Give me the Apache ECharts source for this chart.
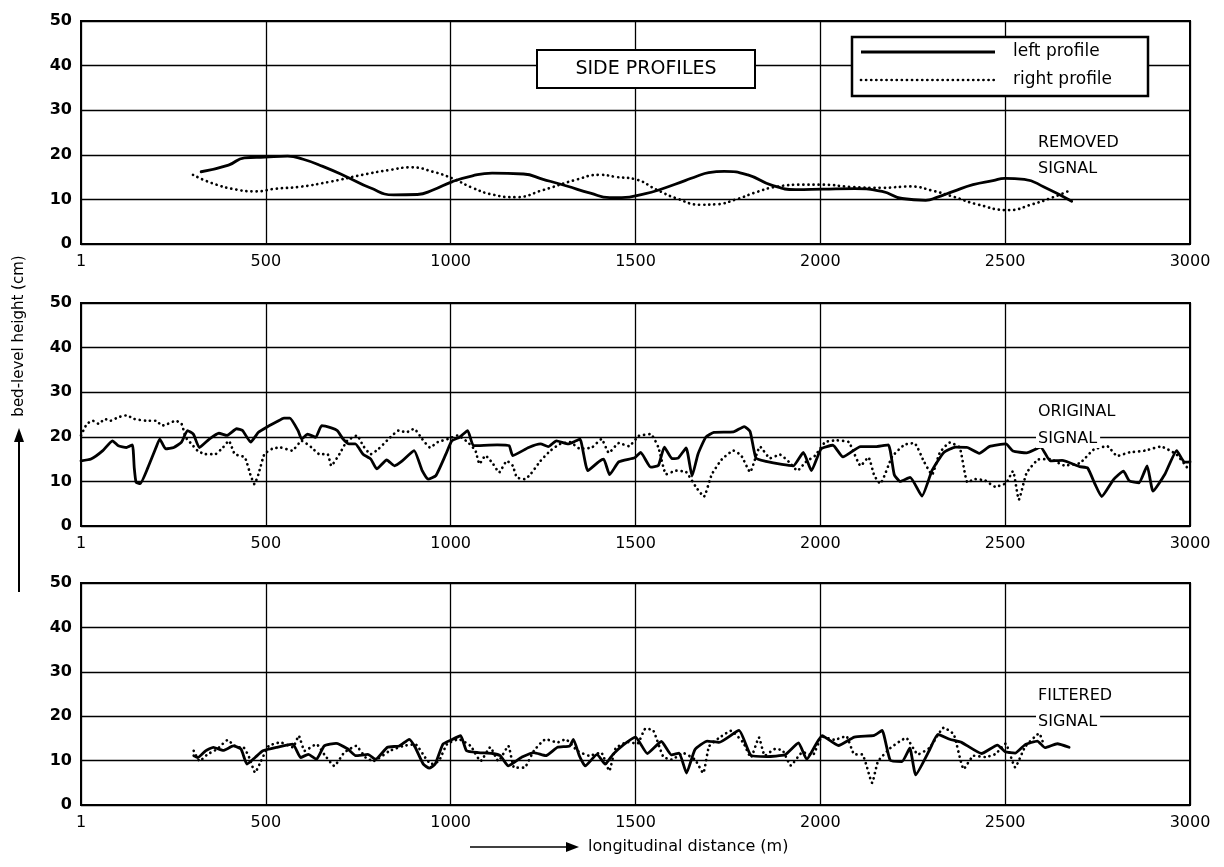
<!DOCTYPE html>
<html>
<head>
<meta charset="utf-8">
<script src="https://cdn.jsdelivr.net/npm/echarts@6/dist/echarts.min.js"></script>
<style>
html,body{margin:0;padding:0;background:#fff;}
#chart{width:1224px;height:867px;}
</style>
</head>
<body>
<div id="chart"></div>
<script>
// ---- tick labels ----
const xTickValues = [0, 500, 1000, 1500, 2000, 2500, 3000];
const xTickLabels = ['1', '500', '1000', '1500', '2000', '2500', '3000'];
const yTickValues = [0, 10, 20, 30, 40, 50];

// ---- legend / panel names ----
const seriesNames = ['left profile', 'right profile'];
const panelLabels = [['REMOVED', 'SIGNAL'], ['ORIGINAL', 'SIGNAL'], ['FILTERED', 'SIGNAL']];

// ---- panel 1 : removed signal  [distance m, height cm] ----
const removedLeft = [
  [325,16.2],[399,17.7],[442,19.3],[497,19.5],[559,19.7],[601,19.0],[654,17.4],[718,15.1],[782,12.6],
  [846,11.0],[910,11.1],[952,12.1],[1005,14.0],[1059,15.3],[1112,15.9],[1197,15.7],[1250,14.5],
  [1314,13.0],[1378,11.4],[1430,10.4],[1463,10.4],[1527,11.3],[1559,12.0],[1634,14.2],[1666,15.2],
  [1698,16.0],[1740,16.3],[1804,15.5],[1868,13.2],[1933,12.2],[2007,12.3],[2093,12.4],[2167,11.8],
  [2221,10.2],[2285,9.8],[2317,10.5],[2360,11.8],[2413,13.3],[2467,14.2],[2499,14.7],[2552,14.5],
  [2605,12.8],[2680,9.6]
];
const removedRight = [
  [303,15.5],[356,13.6],[420,12.2],[473,11.8],[527,12.4],[590,12.8],[676,14.0],[761,15.5],[835,16.6],
  [894,17.2],[952,16.2],[1005,14.7],[1059,12.6],[1112,11.1],[1176,10.5],[1250,12.1],[1335,14.3],
  [1404,15.5],[1450,15.0],[1500,14.5],[1559,12.1],[1612,10.2],[1676,8.8],[1719,8.9],[1772,10.0],
  [1826,11.6],[1879,12.8],[1954,13.3],[2007,13.3],[2082,12.8],[2167,12.6],[2242,12.9],[2306,11.9],
  [2360,10.6],[2424,8.9],[2509,7.6],[2573,8.9],[2627,10.4],[2675,12.0]
];

// ---- panel 2 : original signal ----
const originalLeft = [
  [0,14.6],[27,15.0],[59,16.9],[85,19.1],[101,18.0],[123,17.6],[139,18.2],[144,13.1],[149,9.8],
  [160,9.5],[181,13.1],[203,17.6],[213,19.5],[229,17.3],[251,17.6],[272,18.8],[288,21.4],[304,20.6],
  [320,17.6],[347,19.5],[373,20.8],[395,20.3],[421,21.8],[437,21.4],[459,18.8],[480,21.0],[501,22.1],
  [528,23.3],[549,24.2],[565,24.2],[587,21.4],[597,19.5],[613,20.6],[635,19.9],[651,22.5],[677,22.0],
  [693,21.4],[709,19.5],[725,18.4],[742,18.4],[763,16.1],[784,15.0],[800,12.8],[827,14.8],[848,13.5],
  [869,14.6],[901,16.9],[923,12.4],[939,10.5],[960,11.3],[987,16.1],[1003,19.1],[1024,19.9],
  [1046,21.4],[1062,18.0],[1126,18.2],[1158,18.0],[1168,15.8],[1211,17.6],[1243,18.4],[1264,17.8],
  [1286,19.1],[1318,18.4],[1339,19.1],[1350,19.5],[1371,12.4],[1402,14.5],[1414,15.0],[1430,11.5],
  [1455,14.4],[1498,15.3],[1514,16.5],[1541,13.2],[1562,13.6],[1578,17.7],[1599,15.1],[1615,15.2],
  [1637,17.5],[1653,11.2],[1669,16.1],[1690,19.9],[1712,21.0],[1765,21.1],[1794,22.3],[1810,21.2],
  [1826,15.2],[1853,14.5],[1896,13.8],[1927,13.5],[1954,16.5],[1976,12.4],[2002,17.3],[2034,18.1],
  [2061,15.5],[2109,17.8],[2152,17.8],[2184,18.2],[2200,11.5],[2216,10.0],[2243,10.9],[2275,6.7],
  [2302,12.4],[2334,16.5],[2366,17.7],[2398,17.6],[2430,16.3],[2457,17.8],[2502,18.4],[2521,16.8],
  [2558,16.4],[2596,17.7],[2622,14.6],[2654,14.7],[2702,13.3],[2723,13.0],[2744,9.2],[2761,6.6],
  [2793,10.4],[2820,12.3],[2836,10.1],[2862,9.7],[2884,13.5],[2900,7.8],[2932,11.6],[2964,16.9],
  [2985,14.3],[3000,14.4]
];
const originalRight = [
  [0,20.3],[16,22.9],[32,23.6],[48,22.9],[64,24.0],[80,23.6],[101,24.4],[123,24.8],[144,24.0],
  [176,23.6],[203,23.6],[219,22.5],[235,22.9],[256,23.6],[272,22.9],[283,19.9],[299,18.4],[315,16.9],
  [336,16.1],[363,16.1],[384,17.6],[400,19.1],[416,16.1],[443,15.4],[459,11.3],[469,9.4],[480,11.6],
  [496,16.1],[517,17.3],[539,17.6],[571,16.9],[597,19.1],[624,17.6],[645,16.1],[667,16.1],[677,13.5],
  [699,16.1],[720,19.1],[747,20.3],[763,18.0],[784,16.1],[805,17.3],[832,19.5],[859,21.4],[880,21.0],
  [901,21.8],[923,19.5],[944,17.6],[965,18.8],[992,19.5],[1019,20.3],[1046,18.8],[1067,16.9],
  [1078,13.9],[1094,15.8],[1115,13.9],[1131,12.0],[1152,14.6],[1168,13.5],[1179,10.9],[1200,10.5],
  [1216,11.6],[1243,14.6],[1270,16.9],[1296,18.4],[1323,18.8],[1350,17.3],[1382,17.6],[1408,19.5],
  [1428,16.4],[1455,18.6],[1482,17.9],[1509,20.2],[1541,20.6],[1562,17.6],[1583,11.6],[1610,12.4],
  [1637,12.1],[1663,8.8],[1685,6.6],[1706,11.5],[1733,14.9],[1765,16.9],[1786,15.8],[1810,12.1],
  [1837,17.8],[1864,15.2],[1891,16.0],[1917,14.2],[1938,12.4],[1960,14.3],[1986,15.8],[2013,18.8],
  [2045,19.2],[2077,18.8],[2109,13.5],[2130,15.4],[2146,11.3],[2162,9.5],[2194,15.5],[2227,18.2],
  [2254,18.6],[2280,14.5],[2302,11.5],[2323,16.4],[2350,18.7],[2377,17.6],[2398,9.8],[2419,10.5],
  [2446,10.2],[2473,8.8],[2502,9.6],[2521,12.3],[2537,5.9],[2558,11.9],[2590,14.9],[2622,15.0],
  [2659,13.6],[2702,14.1],[2739,17.1],[2776,17.9],[2803,15.7],[2836,16.5],[2878,16.9],[2921,17.8],
  [2964,16.0],[2996,12.7]
];

// ---- panel 3 : filtered signal ----
const filteredLeft = [
  [305,11.1],[316,10.7],[337,12.2],[358,13.0],[385,12.3],[412,13.3],[433,12.6],[449,9.2],[471,10.7],
  [492,12.2],[530,13.0],[573,13.7],[594,10.7],[615,11.4],[637,10.3],[658,13.3],[690,13.9],[722,12.6],
  [744,11.1],[776,11.4],[797,10.3],[829,13.0],[861,13.3],[888,14.8],[904,13.0],[926,9.2],[942,8.3],
  [958,9.2],[979,13.7],[1000,14.6],[1027,15.6],[1043,12.2],[1075,11.8],[1113,11.6],[1134,11.1],
  [1156,8.8],[1193,10.8],[1225,11.8],[1257,11.1],[1289,13.0],[1322,13.3],[1332,14.8],[1348,11.1],
  [1364,8.8],[1396,11.4],[1418,9.2],[1439,11.4],[1468,13.6],[1500,15.3],[1532,11.6],[1570,14.3],
  [1597,11.3],[1618,11.7],[1638,7.2],[1661,12.5],[1694,14.4],[1726,14.1],[1780,16.8],[1812,11.2],
  [1855,10.9],[1904,11.3],[1941,14.0],[1963,10.3],[2005,15.6],[2049,13.4],[2092,15.3],[2146,15.7],
  [2167,16.8],[2189,10.1],[2221,9.8],[2242,12.8],[2258,6.8],[2296,12.5],[2318,15.9],[2350,14.8],
  [2382,14.1],[2436,11.6],[2479,13.5],[2500,12.0],[2527,11.7],[2554,13.6],[2587,14.4],[2608,12.9],
  [2641,13.8],[2673,13.0]
];
const filteredRight = [
  [305,12.2],[321,9.9],[342,11.4],[369,12.6],[396,14.6],[423,13.0],[439,13.0],[455,10.7],[471,7.3],
  [487,9.9],[508,13.3],[540,14.1],[573,13.0],[589,15.6],[605,12.2],[637,13.7],[658,11.4],[685,8.8],
  [712,11.8],[744,13.3],[770,10.7],[791,9.9],[835,12.2],[872,13.3],[904,13.7],[931,10.7],[947,9.2],
  [968,9.9],[990,13.7],[1022,14.8],[1054,13.3],[1081,9.9],[1107,13.0],[1129,9.9],[1156,13.3],
  [1172,8.4],[1199,8.4],[1225,12.2],[1257,14.8],[1289,14.1],[1311,14.8],[1343,12.2],[1375,11.1],
  [1407,11.8],[1429,7.7],[1446,12.7],[1478,14.2],[1505,13.8],[1527,17.2],[1548,16.8],[1575,10.9],
  [1597,10.2],[1629,11.7],[1661,10.2],[1683,7.2],[1699,13.2],[1726,15.1],[1758,16.7],[1791,14.1],
  [1812,10.7],[1834,15.2],[1850,11.1],[1877,12.6],[1898,12.3],[1920,8.9],[1952,11.9],[1979,11.2],
  [2005,15.4],[2038,14.7],[2070,15.5],[2092,11.4],[2113,11.4],[2140,5.0],[2156,9.8],[2189,12.8],
  [2232,15.1],[2264,11.4],[2296,12.9],[2334,17.4],[2361,15.9],[2388,8.1],[2415,11.1],[2447,10.8],
  [2474,11.5],[2501,13.8],[2527,8.5],[2554,13.1],[2592,16.1],[2603,13.9]
];

const FONT = 'DejaVu Sans';
const SOLID = {color: '#000', width: 2.8, cap: 'round', join: 'round'};
const DOTTED = {color: '#000', width: 2.7, type: [0.1, 5], cap: 'round'};
const grids = [
  {left: 81, right: 34, top: 21, height: 223},
  {left: 81, right: 34, top: 303, height: 223},
  {left: 81, right: 34, top: 583, height: 222}
];
const panelData = [[removedLeft, removedRight], [originalLeft, originalRight], [filteredLeft, filteredRight]];

const chart = echarts.init(document.getElementById('chart'), null, {renderer: 'canvas'});

const xAxes = grids.map((g, i) => ({
  gridIndex: i, type: 'value', min: xTickValues[0], max: xTickValues[xTickValues.length - 1],
  interval: xTickValues[1] - xTickValues[0],
  axisLine: {show: true, lineStyle: {color: '#000', width: 2}},
  axisTick: {show: false},
  axisLabel: {
    color: '#000', fontSize: 16, fontFamily: FONT, margin: 10,
    formatter: v => xTickLabels[xTickValues.indexOf(v)] || ''
  },
  splitLine: {show: true, lineStyle: {color: '#000', width: 1.3}}
}));
const yAxes = grids.map((g, i) => ({
  gridIndex: i, type: 'value', min: yTickValues[0], max: yTickValues[yTickValues.length - 1],
  interval: yTickValues[1] - yTickValues[0],
  axisLine: {show: true, lineStyle: {color: '#000', width: 2}},
  axisTick: {show: false},
  axisLabel: {color: '#000', fontSize: 16, fontWeight: 'bold', fontFamily: FONT, margin: 9},
  splitLine: {show: true, lineStyle: {color: '#000', width: 1.3}}
}));

const series = [];
panelData.forEach((pair, i) => {
  series.push({
    name: seriesNames[0], type: 'line', xAxisIndex: i, yAxisIndex: i, data: pair[0],
    symbol: 'none', smooth: i === 0 ? 0.5 : 0.15, lineStyle: SOLID, z: 3
  });
  series.push({
    name: seriesNames[1], type: 'line', xAxisIndex: i, yAxisIndex: i, data: pair[1],
    symbol: 'none', smooth: i === 0 ? 0.5 : 0.15, lineStyle: DOTTED, z: 2
  });
});

// panel side labels
const labelY = [[144, 170], [413, 440], [697, 723]];
const graphics = [];
panelLabels.forEach((pl, i) => {
  pl.forEach((t, j) => {
    graphics.push({
      type: 'text', left: 1036, top: labelY[i][j] - 10, z: 100,
      style: {text: t, font: '16px "DejaVu Sans"', fill: '#000', backgroundColor: '#fff', padding: [1, 3, 1, 2]}
    });
  });
});
// SIDE PROFILES box
graphics.push({
  type: 'rect', shape: {x: 537, y: 50, width: 218, height: 38}, z: 100,
  style: {fill: '#fff', stroke: '#000', lineWidth: 2}
});
graphics.push({
  type: 'text', x: 646, y: 69, z: 101,
  style: {text: 'SIDE PROFILES', font: '19px "DejaVu Sans"', fill: '#000', align: 'center', verticalAlign: 'middle'}
});
// legend box
graphics.push({
  type: 'rect', shape: {x: 852, y: 37, width: 296, height: 59}, z: 100,
  style: {fill: '#fff', stroke: '#000', lineWidth: 2.5}
});
graphics.push({type: 'line', shape: {x1: 861, y1: 52, x2: 995, y2: 52}, z: 101,
  style: {stroke: '#000', lineWidth: SOLID.width}});
graphics.push({type: 'line', shape: {x1: 861, y1: 80, x2: 995, y2: 80}, z: 101,
  style: {stroke: '#000', lineWidth: DOTTED.width, lineDash: DOTTED.type, lineCap: 'round'}});
seriesNames.forEach((n, k) => {
  graphics.push({
    type: 'text', x: 1013, y: 52 + 28 * k, z: 101,
    style: {text: n, font: '17px "DejaVu Sans"', fill: '#000', align: 'left', verticalAlign: 'middle'}
  });
});
// y axis name with arrow
graphics.push({
  type: 'text', x: 19, y: 336, rotation: Math.PI / 2, z: 100,
  style: {text: 'bed-level height (cm)', font: '15px "DejaVu Sans"', fill: '#000', align: 'center', verticalAlign: 'middle'}
});
graphics.push({type: 'line', shape: {x1: 19, y1: 592, x2: 19, y2: 436}, z: 100, style: {stroke: '#000', lineWidth: 2}});
graphics.push({type: 'polygon', shape: {points: [[19, 428], [14, 442], [24, 442]]}, z: 100, style: {fill: '#000'}});
// x axis name with arrow
graphics.push({type: 'line', shape: {x1: 470, y1: 847, x2: 570, y2: 847}, z: 100, style: {stroke: '#000', lineWidth: 1.5}});
graphics.push({type: 'polygon', shape: {points: [[579, 847], [566, 842], [566, 852]]}, z: 100, style: {fill: '#000'}});
graphics.push({
  type: 'text', x: 588, y: 847, z: 100,
  style: {text: 'longitudinal distance (m)', font: '16px "DejaVu Sans"', fill: '#000', align: 'left', verticalAlign: 'middle'}
});

chart.setOption({
  animation: false,
  backgroundColor: '#fff',
  grid: grids.map(g => Object.assign({show: true, borderColor: '#000', borderWidth: 2, backgroundColor: 'transparent'}, g)),
  xAxis: xAxes,
  yAxis: yAxes,
  graphic: graphics,
  series: series
});
</script>
</body>
</html>
